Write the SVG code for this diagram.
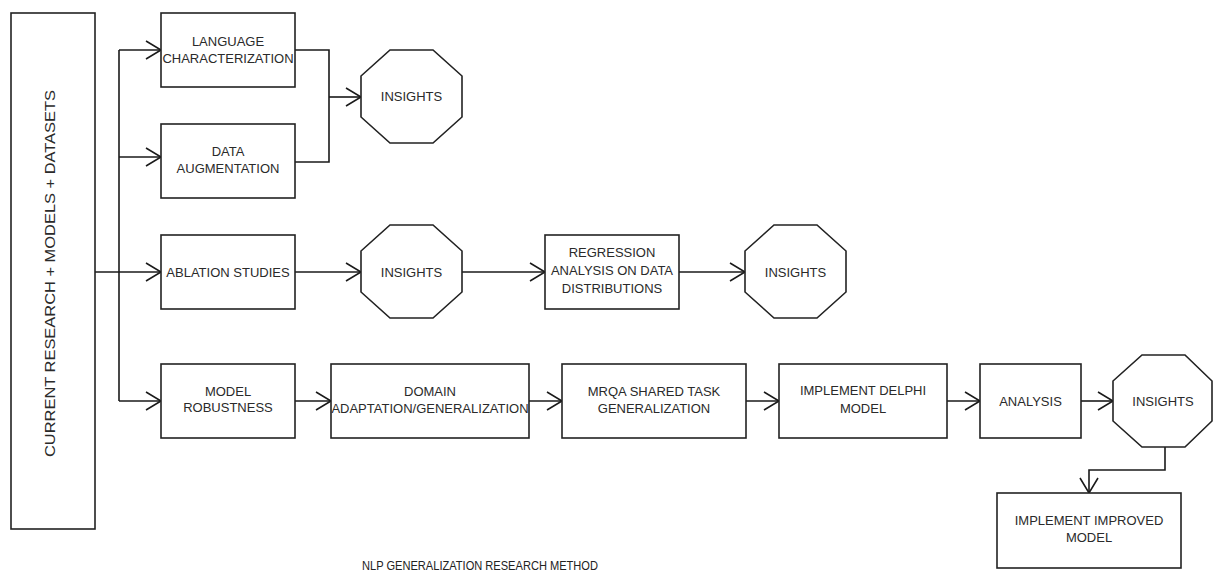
<svg xmlns="http://www.w3.org/2000/svg" width="1213" height="572" viewBox="0 0 1213 572">
<style>
.box{fill:#fff;stroke:#222;stroke-width:1.6}
.lbl{font-family:"Liberation Sans",Arial,sans-serif;font-size:13px;fill:#2a2a2a;text-anchor:middle}
.ln{fill:none;stroke:#1a1a1a;stroke-width:1.6}
</style>
<defs>
<marker id="arr" markerUnits="userSpaceOnUse" markerWidth="20" markerHeight="22" refX="16" refY="10" orient="auto">
<path d="M1,1 L16,10 L1,19" fill="none" stroke="#1a1a1a" stroke-width="1.6"/>
</marker>
</defs>
<rect width="1213" height="572" fill="#fff"/>

<g id="connectors">
<line class="ln" x1="95" y1="272" x2="161" y2="272" marker-end="url(#arr)"/>
<line class="ln" x1="119" y1="50" x2="119" y2="401"/>
<line class="ln" x1="119" y1="50" x2="161" y2="50" marker-end="url(#arr)"/>
<line class="ln" x1="119" y1="157" x2="161" y2="157" marker-end="url(#arr)"/>
<line class="ln" x1="119" y1="401" x2="161" y2="401" marker-end="url(#arr)"/>
<polyline class="ln" points="295,50 329,50 329,162 295,162"/>
<line class="ln" x1="329" y1="97" x2="361" y2="97" marker-end="url(#arr)"/>
<line class="ln" x1="295" y1="272" x2="361" y2="272" marker-end="url(#arr)"/>
<line class="ln" x1="462" y1="272" x2="545" y2="272" marker-end="url(#arr)"/>
<line class="ln" x1="679" y1="272" x2="745" y2="272" marker-end="url(#arr)"/>
<line class="ln" x1="295" y1="401" x2="331" y2="401" marker-end="url(#arr)"/>
<line class="ln" x1="529" y1="401" x2="562" y2="401" marker-end="url(#arr)"/>
<line class="ln" x1="746" y1="401" x2="779" y2="401" marker-end="url(#arr)"/>
<line class="ln" x1="947" y1="401" x2="980" y2="401" marker-end="url(#arr)"/>
<line class="ln" x1="1081" y1="401" x2="1113" y2="401" marker-end="url(#arr)"/>
<polyline class="ln" points="1165,447 1165,470 1089,470 1089,493" marker-end="url(#arr)"/>
</g>

<g id="source">
<rect class="box" x="11" y="13" width="84" height="516"/>
<text class="lbl" transform="translate(55,273.5) rotate(-90)" style="font-size:14.5px" textLength="367" lengthAdjust="spacingAndGlyphs">CURRENT RESEARCH + MODELS + DATASETS</text>
</g>

<g id="language">
<rect class="box" x="161" y="13" width="134" height="74"/>
<text class="lbl" x="228" y="46">LANGUAGE</text>
<text class="lbl" x="228" y="63">CHARACTERIZATION</text>
</g>

<g id="augmentation">
<rect class="box" x="161" y="124" width="134" height="74"/>
<text class="lbl" x="228" y="156">DATA</text>
<text class="lbl" x="228" y="173">AUGMENTATION</text>
</g>

<g id="insights1">
<polygon class="box" points="390,50 433,50 462,76 462,117 433,143 390,143 361,117 361,76"/>
<text class="lbl" x="411.5" y="101">INSIGHTS</text>
</g>

<g id="ablation">
<rect class="box" x="161" y="235" width="134" height="74"/>
<text class="lbl" x="228" y="276.5">ABLATION STUDIES</text>
</g>

<g id="insights2">
<polygon class="box" points="390,225 433,225 462,251 462,292 433,318 390,318 361,292 361,251"/>
<text class="lbl" x="411.5" y="276.5">INSIGHTS</text>
</g>

<g id="regression">
<rect class="box" x="545" y="235" width="134" height="74"/>
<text class="lbl" x="612" y="257">REGRESSION</text>
<text class="lbl" x="612" y="275">ANALYSIS ON DATA</text>
<text class="lbl" x="612" y="293">DISTRIBUTIONS</text>
</g>

<g id="insights4">
<polygon class="box" points="774,225 817,225 846,251 846,292 817,318 774,318 745,292 745,251"/>
<text class="lbl" x="795.5" y="276.5">INSIGHTS</text>
</g>

<g id="robustness">
<rect class="box" x="161" y="364" width="134" height="74"/>
<text class="lbl" x="228" y="395.5">MODEL</text>
<text class="lbl" x="228" y="412">ROBUSTNESS</text>
</g>

<g id="domain">
<rect class="box" x="331" y="364" width="198" height="74"/>
<text class="lbl" x="430" y="395.5">DOMAIN</text>
<text class="lbl" x="430" y="412.5">ADAPTATION/GENERALIZATION</text>
</g>

<g id="mrqa">
<rect class="box" x="562" y="364" width="184" height="74"/>
<text class="lbl" x="654" y="395.5">MRQA SHARED TASK</text>
<text class="lbl" x="654" y="412.5">GENERALIZATION</text>
</g>

<g id="delphi">
<rect class="box" x="779" y="364" width="168" height="74"/>
<text class="lbl" x="863" y="395">IMPLEMENT DELPHI</text>
<text class="lbl" x="863" y="412.5">MODEL</text>
</g>

<g id="analysis">
<rect class="box" x="980" y="364" width="101" height="74"/>
<text class="lbl" x="1030.5" y="405.5">ANALYSIS</text>
</g>

<g id="insights3">
<polygon class="box" points="1142,355 1185,355 1212,381 1212,421 1185,447 1142,447 1113,421 1113,381"/>
<text class="lbl" x="1163" y="405.5">INSIGHTS</text>
</g>

<g id="improved">
<rect class="box" x="997" y="493" width="184" height="75"/>
<text class="lbl" x="1089" y="524.5">IMPLEMENT IMPROVED</text>
<text class="lbl" x="1089" y="541.5">MODEL</text>
</g>

<g id="title">
<text x="362" y="570" style="font-family:'Liberation Sans',Arial,sans-serif;font-size:13px;fill:#222" textLength="236" lengthAdjust="spacingAndGlyphs">NLP GENERALIZATION RESEARCH METHOD</text>
</g>
</svg>
